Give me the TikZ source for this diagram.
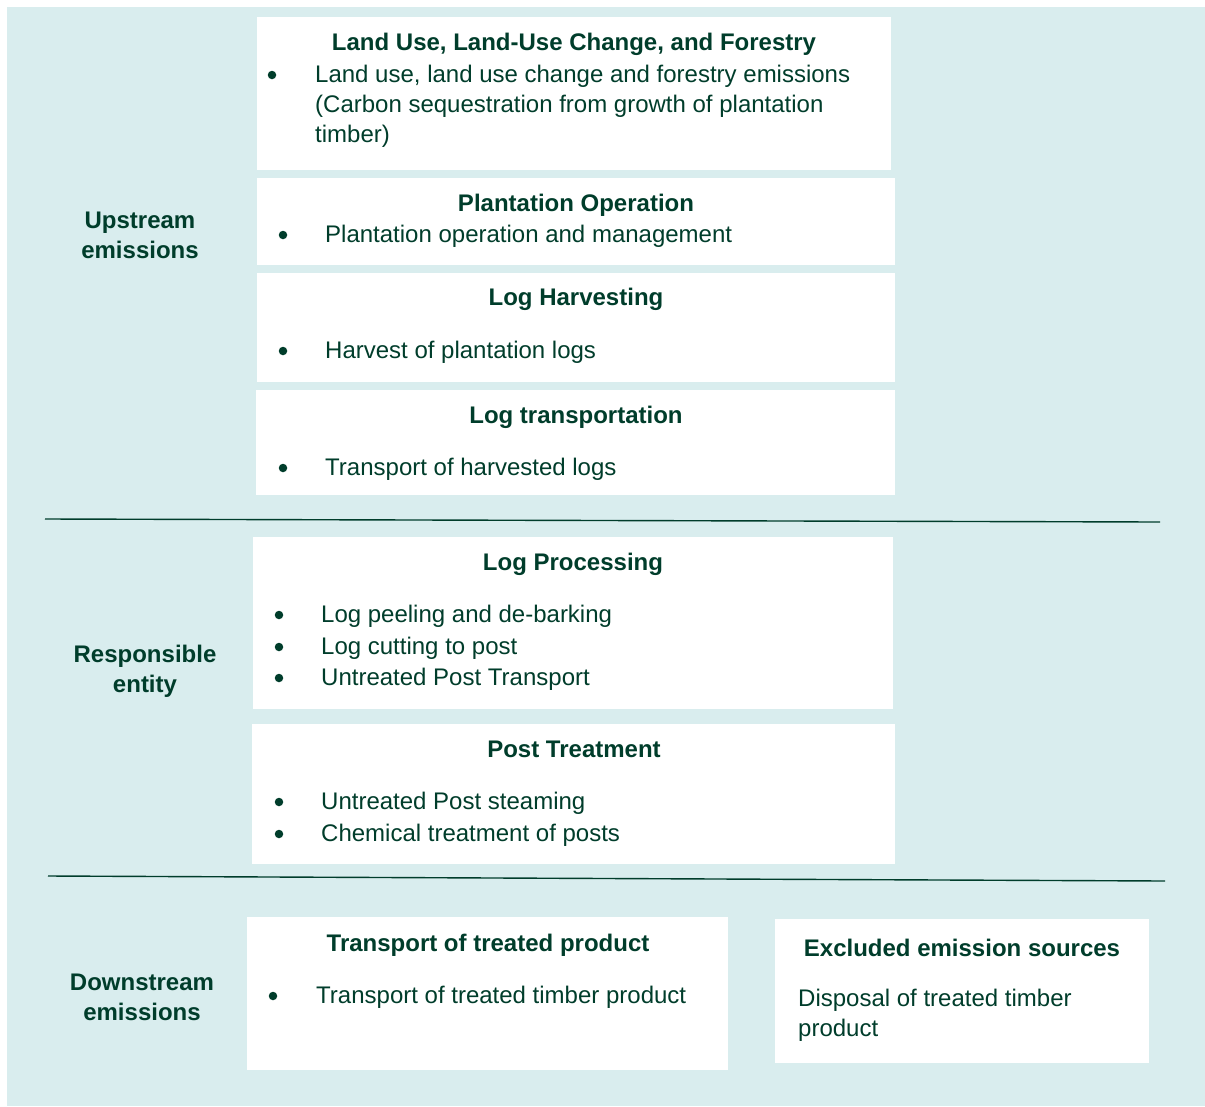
\documentclass[tikz,border=0pt]{standalone}
\usepackage{fontspec}
\setmainfont{Liberation Sans}
\usetikzlibrary{positioning}
\definecolor{paleteal}{RGB}{217,237,238}
\definecolor{forest}{RGB}{0,61,43}
\newcommand{\stagefont}{\fontsize{24}{30}\selectfont}

\begin{document}
\begin{tikzpicture}[x=1pt,y=-1pt,
  stage/.style={rectangle,fill=white,inner sep=0pt,anchor=north west},
  heading/.style={font=\stagefont\bfseries,text=forest,inner sep=0pt,anchor=mid},
  entry/.style={font=\stagefont,text=forest,inner sep=0pt,anchor=mid west},
  multientry/.style={font=\stagefont,text=forest,inner sep=0pt,anchor=base west,align=left},
  dot/.style={circle,fill=forest,inner sep=0pt,minimum size=8.5pt},
  scopelabel/.style={font=\stagefont\bfseries,text=forest,align=center,inner sep=0pt},
  divider/.style={draw=forest,line width=1.4pt}
]
\useasboundingbox (0,0) rectangle (1205,1106);
\fill[paleteal] (7,7) rectangle (1205,1106);

\node[stage,minimum width=634pt,minimum height=153pt] (luc) at (257,17) {};
\node[stage,minimum width=638pt,minimum height=87pt] (plant) at (257,178) {};
\node[stage,minimum width=638pt,minimum height=109pt] (harv) at (257,273) {};
\node[stage,minimum width=639pt,minimum height=105pt] (haul) at (256,390) {};
\node[stage,minimum width=640pt,minimum height=172pt] (proc) at (253,537) {};
\node[stage,minimum width=643pt,minimum height=140pt] (treat) at (252,724) {};
\node[stage,minimum width=481pt,minimum height=153pt] (ship) at (247,917) {};
\node[stage,minimum width=374pt,minimum height=144pt] (excl) at (775,919) {};

\node[heading] (luch) at (574,48) {Land Use, Land-Use Change, and Forestry};
\node[dot] (lucb) at (272,75) {};
\node[multientry] (luct) at (315,142) {Land use, land use change and forestry emissions\\(Carbon sequestration from growth of plantation\\timber)};

\node[heading] (planth) at (576,209) {Plantation Operation};
\node[dot] (plantb) at (283,235) {};
\node[entry] (plantt) at (325,240) {Plantation operation and management};

\node[heading] (harvh) at (576,303) {Log Harvesting};
\node[dot] (harvb) at (283,351) {};
\node[entry] (harvt) at (325,356) {Harvest of plantation logs};

\node[heading] (haulh) at (576,421) {Log transportation};
\node[dot] (haulb) at (283,468) {};
\node[entry] (hault) at (325,473) {Transport of harvested logs};

\node[heading] (proch) at (573,568) {Log Processing};
\node[dot] (procb1) at (279,615) {};
\node[entry] (proct1) at (321,620) {Log peeling and de-barking};
\node[dot] (procb2) at (279,647) {};
\node[entry] (proct2) at (321,652) {Log cutting to post};
\node[dot] (procb3) at (279,678) {};
\node[entry] (proct3) at (321,683) {Untreated Post Transport};

\node[heading] (treath) at (574,755) {Post Treatment};
\node[dot] (treatb1) at (279,802) {};
\node[entry] (treatt1) at (321,807) {Untreated Post steaming};
\node[dot] (treatb2) at (279,834) {};
\node[entry] (treatt2) at (321,839) {Chemical treatment of posts};

\node[heading] (shiph) at (488,949) {Transport of treated product};
\node[dot] (shipb) at (273,996) {};
\node[entry] (shipt) at (316,1001) {Transport of treated timber product};

\node[heading] (exclh) at (962,954) {Excluded emission sources};
\node[multientry] (exclt) at (798,1036) {Disposal of treated timber\\product};

\node[scopelabel] (upstream) at (140,235) {Upstream\\emissions};
\node[scopelabel] (entity) at (145,671) {Responsible\\entity};
\node[scopelabel] (downstream) at (142,997) {Downstream\\emissions};

\coordinate (cut1w) at (45,519);
\coordinate (cut1e) at (1160,522);
\coordinate (cut2w) at (48,876);
\coordinate (cut2e) at (1165,881);
\draw[divider] (cut1w) -- (cut1e);
\draw[divider] (cut2w) -- (cut2e);
\end{tikzpicture}
\end{document}
